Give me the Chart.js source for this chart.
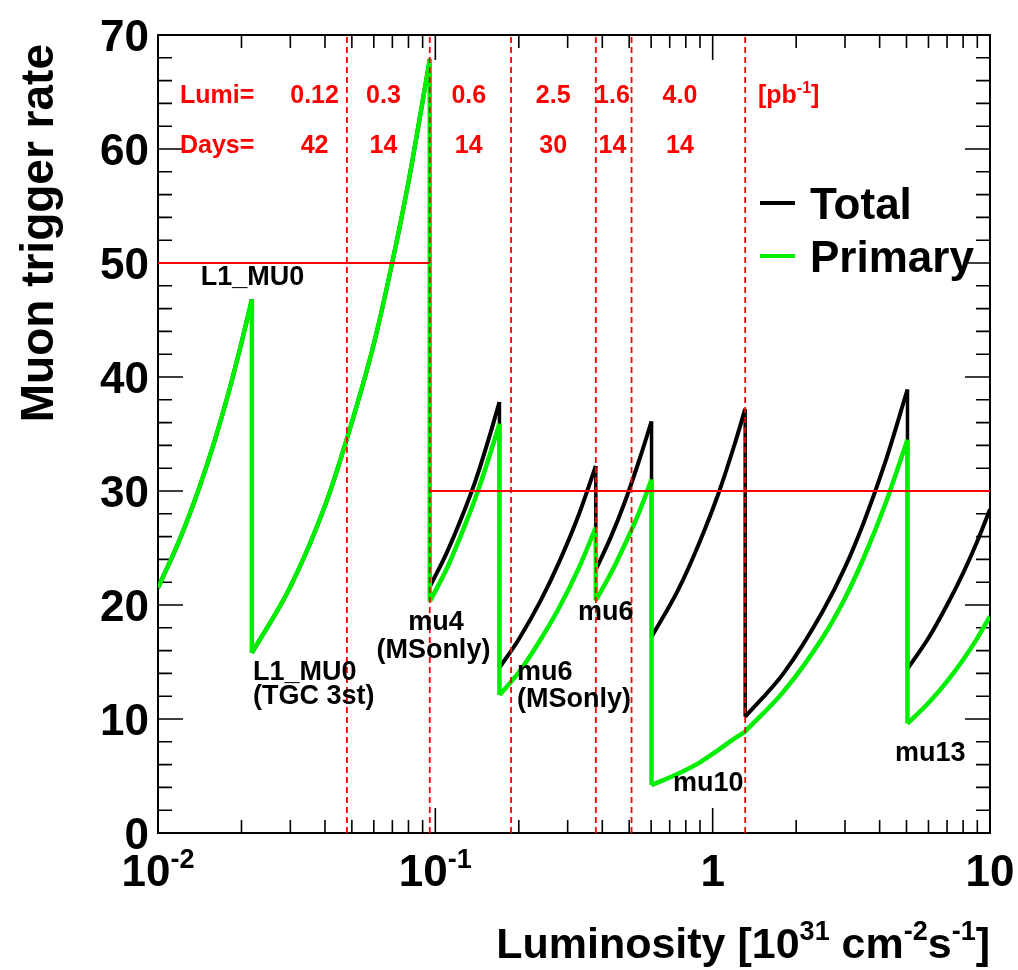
<!DOCTYPE html>
<html>
<head>
<meta charset="utf-8">
<title>Muon trigger rate</title>
<script src="https://cdn.jsdelivr.net/npm/chart.js@4.4.1/dist/chart.umd.min.js"></script>
<style>
  html, body { margin: 0; padding: 0; background: #fff; }
  #wrap { width: 1018px; height: 970px; }
</style>
</head>
<body>
<div id="wrap"><canvas id="rateChart"></canvas></div>
<script>
// luminosity [10^31 cm^-2 s^-1] sample points and rates for each trigger menu
const lumiL1MU0 = [0.01, 0.012, 0.014, 0.016, 0.018, 0.02, 0.0218];
const rateL1MU0 = [21.5, 25.8, 30.1, 34.4, 38.7, 43.0, 46.8];

const lumiTGC = [0.0218, 0.03, 0.04, 0.048, 0.06, 0.07, 0.08, 0.09, 0.0955];
const rateTGC = [15.8, 21.6, 28.7, 34.6, 42.9, 50.1, 57.1, 64.2, 67.9];

const lumiMu4 = [0.0955, 0.11, 0.125, 0.14, 0.155, 0.1703];
const totalMu4 = [21.6, 24.6, 27.8, 31.0, 34.4, 37.8];
const primaryMu4 = [20.3, 23.2, 26.4, 29.5, 32.7, 35.9];

const lumiMu6MS = [0.1703, 0.2, 0.24, 0.28, 0.33, 0.379];
const totalMu6MS = [14.5, 17.0, 20.4, 23.8, 28.0, 32.2];
const primaryMu6MS = [12.1, 14.1, 17.0, 19.8, 23.3, 26.8];

const lumiMu6 = [0.379, 0.43, 0.48, 0.54, 0.602];
const totalMu6 = [23.1, 26.0, 28.9, 32.5, 36.1];
const primaryMu6 = [20.4, 22.8, 25.2, 28.0, 31.0];

const lumiMu10 = [0.602, 0.75, 0.9, 1.05, 1.2, 1.31];
const totalMu10 = [17.2, 21.3, 25.6, 29.8, 34.1, 37.2];
const primaryMu10 = [4.2, 5.2, 6.2, 7.3, 8.3, 8.9];

const lumiMu10High = [1.31, 1.8, 2.5, 3.0, 3.5, 4.2, 5.04];
const totalMu10High = [10.2, 14.0, 19.5, 23.3, 27.2, 32.6, 38.9];
const primaryMu10High = [8.9, 12.4, 17.2, 20.6, 24.1, 28.9, 34.5];

const lumiMu13 = [5.04, 6, 7, 8, 9, 10];
const totalMu13 = [14.4, 17.1, 20.0, 22.8, 25.6, 28.4];
const primaryMu13 = [9.6, 11.4, 13.3, 15.2, 17.1, 19.0];

// running periods: boundaries, integrated luminosity [pb^-1] and length in days
const periodEdges = [0.048, 0.0955, 0.1875, 0.379, 0.51, 1.31];
const periodLumi = ['0.12', '0.3', '0.6', '2.5', '1.6', '4.0'];
const periodDays = ['42', '14', '14', '30', '14', '14'];

// rate budget: 50 up to the mu4 switch, 30 afterwards
const limitLumi = [0.01, 0.0955, 10];
const limitRate = [50, 30];

const rateTicks = [0, 10, 20, 30, 40, 50, 60, 70];
const decadeLumi = [0.01, 0.1, 1, 10];
const decadeBase = ['10', '10', '1', '10'];
const decadeExp = ['-2', '-1', '', ''];

const seriesNames = ['Total', 'Primary'];
const GREEN = '#00ee00';
const RED = '#ff0000';
const FONT = '"Liberation Sans", Arial, sans-serif';

// [lumi, total, primary] per menu, in luminosity order
const segments = [
  [lumiL1MU0, rateL1MU0, rateL1MU0],
  [lumiTGC, rateTGC, rateTGC],
  [lumiMu4, totalMu4, primaryMu4],
  [lumiMu6MS, totalMu6MS, primaryMu6MS],
  [lumiMu6, totalMu6, primaryMu6],
  [lumiMu10, totalMu10, primaryMu10],
  [lumiMu10High, totalMu10High, primaryMu10High],
  [lumiMu13, totalMu13, primaryMu13]
];

function curvePoints(col) {
  const pts = [];
  segments.forEach((s, i) => {
    if (i > 0) pts.push({ x: s[0][0], y: null });
    s[0].forEach((l, j) => pts.push({ x: l, y: s[col][j] }));
  });
  return pts;
}

// vertical jumps where the menu changes
function dropPoints(col) {
  const pts = [];
  for (let i = 1; i < segments.length; i++) {
    const prev = segments[i - 1][col];
    const cur = segments[i];
    const x = cur[0][0];
    pts.push({ x: x, y: prev[prev.length - 1] }, { x: x, y: cur[col][0] }, { x: x, y: null });
  }
  return pts;
}

function limitPoints() {
  const pts = [];
  limitRate.forEach((r, i) => {
    if (i > 0) pts.push({ x: limitLumi[i], y: null });
    pts.push({ x: limitLumi[i], y: r }, { x: limitLumi[i + 1], y: r });
  });
  return pts;
}

function edgePoints() {
  const pts = [];
  periodEdges.forEach(e => {
    pts.push({ x: e, y: 0 }, { x: e, y: 70 }, { x: e, y: null });
  });
  return pts;
}

function font(size, weight) {
  return (weight || 'bold') + ' ' + size + 'px ' + FONT;
}

// text with superscripts: parts = [[text, isSup], ...]
function drawRich(ctx, parts, x, y, size, align) {
  const supSize = Math.round(size * 0.62);
  let total = 0;
  const widths = parts.map(([t, sup]) => {
    ctx.font = font(sup ? supSize : size);
    const w = ctx.measureText(t).width;
    total += w;
    return w;
  });
  let cx = align === 'right' ? x - total : align === 'center' ? x - total / 2 : x;
  ctx.textAlign = 'left';
  ctx.textBaseline = 'alphabetic';
  parts.forEach(([t, sup], i) => {
    ctx.font = font(sup ? supSize : size);
    ctx.fillText(t, cx, sup ? y - size * 0.42 : y);
    cx += widths[i];
  });
}

const frame = {
  id: 'frame',
  // frame and tick marks go under the curves and the red lines
  beforeDatasetsDraw(chart) {
    const ctx = chart.ctx;
    const xs = chart.scales.x, ys = chart.scales.y;
    const a = chart.chartArea;
    ctx.save();
    ctx.strokeStyle = '#000';
    ctx.lineWidth = 2;
    ctx.strokeRect(a.left, a.top, a.right - a.left, a.bottom - a.top);

    ctx.lineWidth = 1.6;
    ctx.beginPath();
    for (let i = 0; i < rateTicks.length; i++) {
      for (let k = 0; k < 5; k++) {
        const v = rateTicks[i] + k * 2;
        if (v > ys.max) break;
        const y = ys.getPixelForValue(v);
        const len = k === 0 ? 25 : 14;
        ctx.moveTo(a.left, y); ctx.lineTo(a.left + len, y);
        ctx.moveTo(a.right, y); ctx.lineTo(a.right - len, y);
      }
    }
    decadeLumi.forEach(d => {
      for (let m = 1; m <= 9; m++) {
        const v = d * m;
        if (v > xs.max * 1.0001) break;
        const x = xs.getPixelForValue(v);
        const len = m === 1 ? 25 : 13;
        ctx.moveTo(x, a.bottom); ctx.lineTo(x, a.bottom - len);
        ctx.moveTo(x, a.top); ctx.lineTo(x, a.top + len);
      }
    });
    ctx.stroke();
    ctx.restore();
  },
  afterDraw(chart) {
    const ctx = chart.ctx;
    const xs = chart.scales.x, ys = chart.scales.y;
    const a = chart.chartArea;
    ctx.save();
    ctx.fillStyle = '#000';

    // y tick labels
    ctx.font = font(44);
    ctx.textAlign = 'right';
    ctx.textBaseline = 'alphabetic';
    rateTicks.forEach(v => {
      ctx.fillText(String(v), a.left - 9, ys.getPixelForValue(v) + 16);
    });
    // x tick labels
    decadeLumi.forEach((v, i) => {
      const parts = [[decadeBase[i], false]];
      if (decadeExp[i]) parts.push([decadeExp[i], true]);
      drawRich(ctx, parts, xs.getPixelForValue(v), a.bottom + 53, 44, 'center');
    });

    // axis titles
    drawRich(ctx, [['Luminosity [10', false], ['31', true], [' cm', false], ['-2', true],
      ['s', false], ['-1', true], [']', false]], a.right, 958, 43, 'right');
    ctx.save();
    ctx.translate(53, a.top + 9);
    ctx.rotate(-Math.PI / 2);
    ctx.font = font(46);
    ctx.textAlign = 'right';
    ctx.fillText('Muon trigger rate', 0, 0);
    ctx.restore();

    // legend
    const legendColors = ['#000', GREEN];
    const legendY = [203, 256];
    seriesNames.forEach((name, i) => {
      ctx.strokeStyle = legendColors[i];
      ctx.lineWidth = 4;
      ctx.beginPath();
      ctx.moveTo(760, legendY[i]); ctx.lineTo(795, legendY[i]);
      ctx.stroke();
      ctx.fillStyle = '#000';
      ctx.font = font(44);
      ctx.textAlign = 'left';
      ctx.fillText(name, 810, legendY[i] + 16);
    });

    // trigger menu names
    const notes = [
      ['L1_MU0', 0.0219, 48.1, 'center'],
      ['L1_MU0', 0.0220, 13.4, 'left'],
      ['(TGC 3st)', 0.0220, 11.3, 'left'],
      ['mu4', 0.1005, 17.8, 'center'],
      ['(MSonly)', 0.0984, 15.35, 'center'],
      ['mu6', 0.197, 13.4, 'left'],
      ['(MSonly)', 0.197, 11.05, 'left'],
      ['mu6', 0.327, 18.7, 'left'],
      ['mu10', 0.719, 3.7, 'left'],
      ['mu13', 4.545, 6.3, 'left']
    ];
    ctx.font = font(27);
    notes.forEach(([t, l, r, al]) => {
      ctx.textAlign = al;
      ctx.fillText(t, xs.getPixelForValue(l), ys.getPixelForValue(r));
    });

    // period luminosity and duration
    ctx.fillStyle = RED;
    ctx.font = font(25);
    ctx.textAlign = 'left';
    ctx.fillText('Lumi=', 180, a.top + 68);
    ctx.fillText('Days=', 180, a.top + 118);
    const colLumi = [0.0367, 0.065, 0.132, 0.266, 0.435, 0.762];
    ctx.textAlign = 'center';
    periodLumi.forEach((t, i) => ctx.fillText(t, xs.getPixelForValue(colLumi[i]), a.top + 68));
    periodDays.forEach((t, i) => ctx.fillText(t, xs.getPixelForValue(colLumi[i]), a.top + 118));
    drawRich(ctx, [['[pb', false], ['-1', true], [']', false]], 758, a.top + 68, 25, 'left');

    ctx.restore();
  }
};

const lineBase = { pointRadius: 0, fill: false, spanGaps: false };

new Chart(document.getElementById('rateChart'), {
  type: 'line',
  data: {
    datasets: [
      Object.assign({ data: limitPoints(), borderColor: RED, borderWidth: 2, tension: 0, order: 0 }, lineBase),
      Object.assign({ data: edgePoints(), borderColor: RED, borderWidth: 1.8, borderDash: [6, 4], tension: 0, order: 0 }, lineBase),
      Object.assign({ label: seriesNames[1], data: curvePoints(2), borderColor: GREEN, borderWidth: 4.5,
        cubicInterpolationMode: 'monotone', order: 1 }, lineBase),
      Object.assign({ data: dropPoints(2), borderColor: GREEN, borderWidth: 4.5, tension: 0, order: 1 }, lineBase),
      Object.assign({ label: seriesNames[0], data: curvePoints(1), borderColor: '#000', borderWidth: 4,
        cubicInterpolationMode: 'monotone', order: 2 }, lineBase),
      Object.assign({ data: dropPoints(1), borderColor: '#000', borderWidth: 3.5, tension: 0, order: 2 }, lineBase)
    ]
  },
  options: {
    responsive: true,
    maintainAspectRatio: false,
    animation: false,
    devicePixelRatio: 1,
    events: [],
    layout: { padding: { left: 158, right: 28, top: 35, bottom: 137 } },
    plugins: { legend: { display: false }, tooltip: { enabled: false } },
    scales: {
      x: { type: 'logarithmic', min: 0.01, max: 10, display: false },
      y: { type: 'linear', min: 0, max: 70, display: false }
    }
  },
  plugins: [frame]
});
</script>
</body>
</html>
